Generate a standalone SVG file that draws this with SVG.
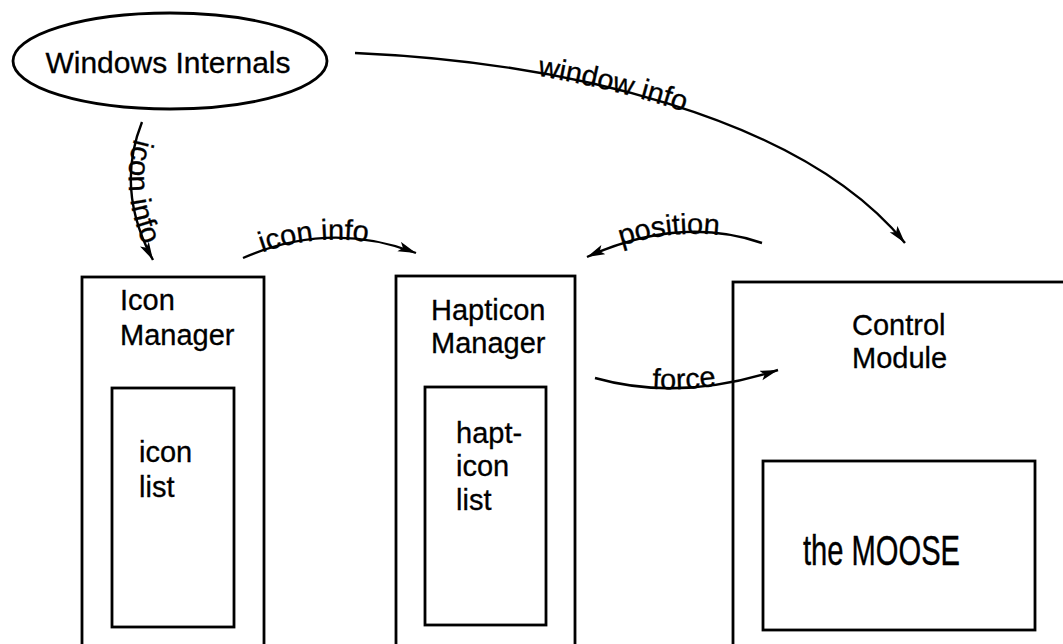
<svg xmlns="http://www.w3.org/2000/svg" width="1063" height="644" viewBox="0 0 1063 644">
<style>
.box{fill:none;stroke:#000;stroke-width:2.8}
.con{fill:none;stroke:#000;stroke-width:2.4}
.lbl{font-family:"Liberation Sans",Arial,Helvetica,sans-serif;font-size:29px;fill:#000;stroke:#000;stroke-width:0.3}
.big{font-family:"Liberation Sans",Arial,Helvetica,sans-serif;font-size:30px;fill:#000;stroke:#000;stroke-width:0.3}
</style>
<defs>
<marker id="arr" markerUnits="userSpaceOnUse" markerWidth="20" markerHeight="12" refX="18" refY="5" orient="auto">
<path d="M0,0 L18,5 L0,10 L4,5 Z" fill="#000"/>
</marker>
<path id="pWin" d="M355,53 C560,62 800,115 905,243"/>
<path id="pIconV" d="M142,122 Q115,190 153,260"/>
<path id="pIconH" d="M243,258 Q330,220 416,253"/>
<path id="pPosR" d="M587,257 Q680,215 762,243"/>
<path id="pForce" d="M595,378 Q680,402 778,370"/>
</defs>
<rect width="1063" height="644" fill="#fff"/>
<g id="windows-internals">
<ellipse cx="170" cy="61" rx="157" ry="48" class="box"/>
<text x="168" y="73" text-anchor="middle" class="big">Windows Internals</text>
</g>
<g id="icon-manager">
<rect x="82" y="277" width="182" height="380" class="box"/>
<text class="lbl" x="120" y="310">Icon</text>
<text class="lbl" x="120" y="345">Manager</text>
</g>
<g id="icon-list">
<rect x="112" y="388" width="122" height="239" class="box"/>
<text class="lbl" x="139" y="462">icon</text>
<text class="lbl" x="139" y="497">list</text>
</g>
<g id="hapticon-manager">
<rect x="396" y="276" width="179" height="381" class="box"/>
<text class="lbl" x="431" y="320">Hapticon</text>
<text class="lbl" x="431" y="353">Manager</text>
</g>
<g id="hapticon-list">
<rect x="425" y="387" width="121" height="238" class="box"/>
<text class="lbl" x="456" y="443">hapt-</text>
<text class="lbl" x="456" y="476">icon</text>
<text class="lbl" x="456" y="510">list</text>
</g>
<g id="control-module">
<rect x="733" y="282" width="340" height="380" class="box"/>
<text class="lbl" x="852" y="335">Control</text>
<text class="lbl" x="852" y="368">Module</text>
</g>
<g id="the-moose">
<rect x="763" y="461" width="272" height="169" class="box"/>
<text x="803" y="565" font-family="'Liberation Sans',Arial,sans-serif" font-size="43" stroke="#000" stroke-width="0.4" textLength="157" lengthAdjust="spacingAndGlyphs">the MOOSE</text>
</g>
<g id="connectors">
<use href="#pWin" class="con" marker-end="url(#arr)"/>
<use href="#pIconV" class="con" marker-end="url(#arr)"/>
<use href="#pIconH" class="con" marker-end="url(#arr)"/>
<path d="M762,243 Q680,215 587,257" class="con" marker-end="url(#arr)"/>
<use href="#pForce" class="con" marker-end="url(#arr)"/>
<text class="lbl" dy="3"><textPath href="#pWin" startOffset="184">window info</textPath></text>
<text class="lbl" dy="2"><textPath href="#pIconV" startOffset="18">icon info</textPath></text>
<text class="lbl" dy="2"><textPath href="#pIconH" startOffset="20">icon info</textPath></text>
<text class="lbl" dy="2"><textPath href="#pPosR" startOffset="36">position</textPath></text>
<text class="lbl" dy="1"><textPath href="#pForce" startOffset="58">force</textPath></text>
</g>
</svg>
